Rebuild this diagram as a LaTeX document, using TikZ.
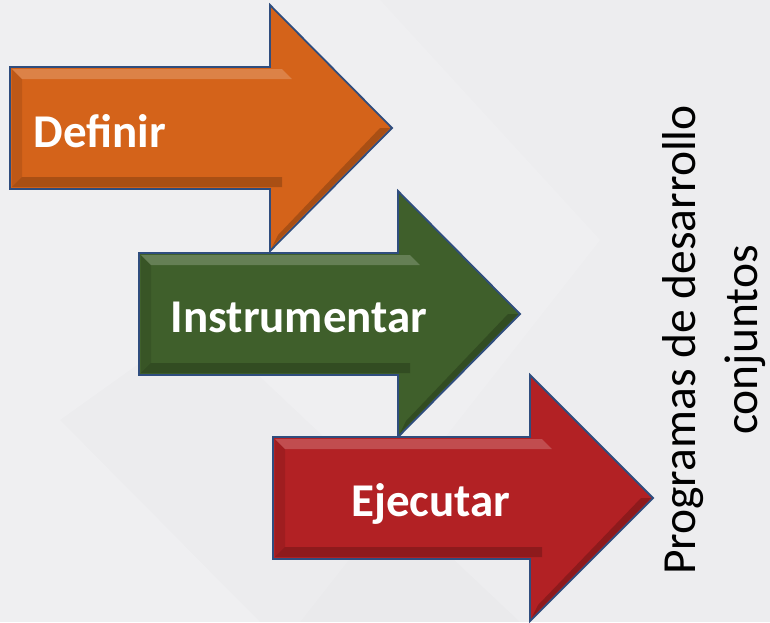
\documentclass[tikz,border=0pt]{standalone}
\usepackage{fontspec}
\setmainfont{Carlito}
\definecolor{bgc}{HTML}{EDEDEF}
\definecolor{edgec}{HTML}{2F4D7E}
\definecolor{orangec}{HTML}{D4631A}
\definecolor{greenc}{HTML}{3F5F2B}
\definecolor{redc}{HTML}{B22124}
\tikzset{
  arrowbody/.style={line width=1.8pt, draw=edgec, line join=miter},
  hilite/.style={fill=white, fill opacity=0.2},
  shade/.style={fill=black, fill opacity=0.2},
  label/.style={text=white, font=\fontsize{47}{56}\selectfont\bfseries, anchor=base, inner sep=0pt},
  sidetext/.style={text=black, font=\fontsize{47.5}{62}\selectfont, align=center, rotate=90, inner sep=0pt}
}
% #1 left x, #2 tip y, #3 neck x, #4 tip x, #5 colour
\newcommand{\bigarrow}[5]{%
  \path[arrowbody, fill=#5]
    (#1,#2-61) -- (#3,#2-61) -- (#3,#2-123) -- (#4,#2) -- (#3,#2+123) -- (#3,#2+61) -- (#1,#2+61) -- cycle;
  \path[hilite] (#1+2,#2-59) -- (#3+12,#2-59) -- (#3+22,#2-49) -- (#1+12,#2-49) -- cycle;
  \path[shade] (#1+2,#2+59) -- (#1+12,#2+49) -- (#3+12,#2+49) -- (#3+12,#2+59) -- (#3+2,#2+59) -- cycle;
  \path[shade] (#3+2,#2+119) -- (#3+8,#2+107) -- (#4-12,#2) -- (#4-2,#2) -- cycle;
  \path[shade, fill opacity=0.1] (#1+2,#2-59) -- (#1+12,#2-49) -- (#1+12,#2+49) -- (#1+2,#2+59) -- cycle;
}
\begin{document}
\begin{tikzpicture}[x=1pt,y=-1pt]
  \fill[bgc] (0,0) rectangle (770,622);
  \useasboundingbox (0,0) rectangle (770,622);
  % faint diagonal background facets
  \fill[white, fill opacity=0.15] (0,0) -- (380,0) -- (600,240) -- (300,622) -- (0,622) -- cycle;
  \fill[black, fill opacity=0.012] (60,420) -- (200,320) -- (520,622) -- (260,622) -- cycle;

  \bigarrow{10}{128}{270}{392}{orangec}
  \bigarrow{139}{314}{398}{520}{greenc}
  \bigarrow{273}{498}{530}{653}{redc}

  \node[label] (definir) at (100,147) {Definir};
  \node[label] (instrumentar) at (299,332) {Instrumentar};
  \node[label] (ejecutar) at (431,516) {Ejecutar};

  \node[sidetext] (programas) at (714,340) {Programas de desarrollo\\conjuntos};
\end{tikzpicture}
\end{document}
